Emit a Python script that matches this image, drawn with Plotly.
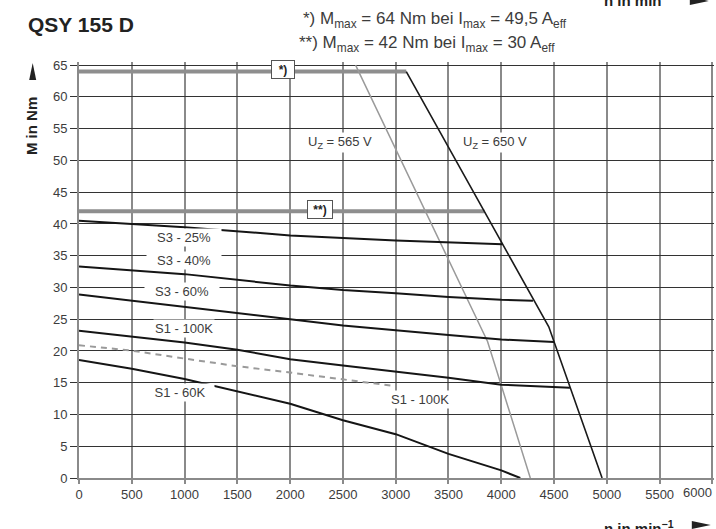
import plotly.graph_objects as go

# ---------------- data ----------------
x_ticks = [0, 500, 1000, 1500, 2000, 2500, 3000, 3500, 4000, 4500, 5000, 5500, 6000]
x_ticktext = ["0", "500", "1000", "1500", "2000", "2500", "3000", "3500", "4000", "4500",
              "5000", "5500", ""]
y_ticks = [0, 5, 10, 15, 20, 25, 30, 35, 40, 45, 50, 55, 60, 65]

mmax1_n = [0, 3100]
mmax1_m = [64, 64]
mmax2_n = [0, 3840]
mmax2_m = [42, 42]

uz650_n = [3100, 4450, 4955]
uz650_m = [64, 23.8, 0]
uz565_n = [2620, 3870, 4275]
uz565_m = [65, 21.5, 0]

s3_25_n = [0, 1000, 2000, 3000, 4010]
s3_25_m = [40.5, 39.5, 38.2, 37.4, 36.8]
s3_40_n = [0, 1000, 2000, 2500, 3000, 3500, 4000, 4300]
s3_40_m = [33.3, 32.1, 30.3, 29.6, 29.1, 28.5, 28.05, 27.9]
s3_60_n = [0, 1000, 2000, 2500, 3000, 3500, 4000, 4500]
s3_60_m = [28.9, 27.0, 25.0, 24.0, 23.2, 22.5, 21.8, 21.4]
s1_100_n = [0, 1000, 1500, 2000, 2500, 3000, 3500, 4000, 4650]
s1_100_m = [23.2, 21.35, 20.2, 18.7, 17.7, 16.8, 15.8, 14.7, 14.2]
s1_100d_n = [0, 500, 1000, 1500, 2000, 2500, 2980]
s1_100d_m = [20.9, 20.05, 18.8, 17.6, 16.6, 15.5, 14.5]
s1_60_n = [0, 500, 1000, 1500, 2000, 2500, 3000, 3500, 4000, 4180]
s1_60_m = [18.6, 17.2, 15.6, 13.7, 11.7, 9.1, 6.9, 3.8, 1.2, 0]

labels_text = ["S3 - 25%", "S3 - 40%", "S3 - 60%", "S1 - 100K", "S1 - 60K", "S1 - 100K",
               "U<sub>Z</sub> = 565 V", "U<sub>Z</sub> = 650 V"]
labels_n = [995, 990, 975, 990, 960, 3230, 2470, 3945]
labels_m = [37.9, 34.3, 29.4, 23.5, 13.4, 12.4, 52.8, 52.8]
labels_w = [72, 72, 72, 0, 66, 0, 0, 0]

TXT = "#3c3c3c"
FONT = "Liberation Sans"

# plot area in pixels (for placing paper-referenced items)
X_MAX = 6015
L, R, T, B = 79.3, 714.2, 62.0, 478.5
def px(x):
    return (x - L) / (R - L)
def py(y):
    return (B - y) / (B - T)

fig = go.Figure()

def line(n, m, color, width, dash="solid"):
    fig.add_trace(go.Scatter(x=n, y=m, mode="lines", hoverinfo="skip",
                             line=dict(color=color, width=width, dash=dash)))

line(mmax1_n, mmax1_m, "#8e8e8e", 4)
line(mmax2_n, mmax2_m, "#8e8e8e", 4)
line(uz565_n, uz565_m, "#9a9a9a", 1.5)
line(uz650_n, uz650_m, "#1a1a1a", 1.6)
line(s3_25_n, s3_25_m, "#151515", 2)
line(s3_40_n, s3_40_m, "#151515", 2)
line(s3_60_n, s3_60_m, "#151515", 2)
line(s1_100_n, s1_100_m, "#151515", 2)
line(s1_100d_n, s1_100d_m, "#9a9a9a", 2, dash="6px,5px")
line(s1_60_n, s1_60_m, "#151515", 2)

ann = []
for t, n, m, w in zip(labels_text, labels_n, labels_m, labels_w):
    a = dict(x=n, y=m, xref="x", yref="y", text=t, showarrow=False,
             font=dict(family=FONT, size=13, color=TXT), bgcolor="white",
             borderpad=1)
    if w:
        a["width"] = w
    ann.append(a)

# boxed markers
ann.append(dict(x=1930, y=64.3, xref="x", yref="y", text="<b>*)</b>", showarrow=False,
                font=dict(family=FONT, size=12, color="#222"), bgcolor="white",
                bordercolor="#555", borderwidth=1, borderpad=1, width=20, height=15))
ann.append(dict(x=2285, y=42.2, xref="x", yref="y", text="<b>**)</b>", showarrow=False,
                font=dict(family=FONT, size=12, color="#222"), bgcolor="white",
                bordercolor="#555", borderwidth=1, borderpad=1, width=22, height=15))

# last x tick label, shifted left as in the reference
ann.append(dict(x=px(698), y=py(493), xref="paper", yref="paper", xanchor="center", yanchor="middle",
                text="6000", showarrow=False, font=dict(family=FONT, size=13, color=TXT)))

# title and notes
ann.append(dict(x=px(26), y=py(24), xref="paper", yref="paper", xanchor="left", yanchor="middle",
                text="<b>QSY 155 D</b>", showarrow=False,
                font=dict(family=FONT, size=21, color="#222")))
ann.append(dict(x=px(301), y=py(20), xref="paper", yref="paper", xanchor="left", yanchor="middle",
                text="*) M<sub>max</sub> = 64 Nm bei I<sub>max</sub> = 49,5 A<sub>eff</sub>",
                showarrow=False, font=dict(family=FONT, size=17, color=TXT)))
ann.append(dict(x=px(297), y=py(44), xref="paper", yref="paper", xanchor="left", yanchor="middle",
                text="**) M<sub>max</sub> = 42 Nm bei I<sub>max</sub> = 30 A<sub>eff</sub>",
                showarrow=False, font=dict(family=FONT, size=17, color=TXT)))
# axis titles
ann.append(dict(x=px(32.5), y=py(126), xref="paper", yref="paper", xanchor="center", yanchor="middle",
                text="<b>M in Nm</b>", textangle=-90, showarrow=False,
                font=dict(family=FONT, size=15, color="#222")))
ann.append(dict(x=px(602), y=py(517), xref="paper", yref="paper", xanchor="left", yanchor="top",
                text="<b>n in min<sup>−1</sup></b>", showarrow=False,
                font=dict(family=FONT, size=15, color="#222")))
ann.append(dict(x=px(602), y=py(11), xref="paper", yref="paper", xanchor="left", yanchor="bottom",
                text="<b>n in min<sup>−1</sup></b>", showarrow=False,
                font=dict(family=FONT, size=15, color="#222")))

def tri(points):
    p = "M " + " L ".join(f"{px(a)},{py(b)}" for a, b in points) + " Z"
    return dict(type="path", xref="paper", yref="paper", path=p,
                fillcolor="#222", line=dict(width=0))

shapes = [
    tri([(29.5, 80), (33, 63), (36.5, 80)]),
    tri([(692, 521.5), (711, 525.5), (692, 529.5)]),
    tri([(690, -4), (709, 1), (690, 5)]),
]

fig.update_layout(
    width=716, height=529,
    margin=dict(l=L, r=716 - R, t=T, b=529 - B, pad=0),
    paper_bgcolor="white", plot_bgcolor="white",
    showlegend=False,
    annotations=ann, shapes=shapes,
    font=dict(family=FONT, color=TXT),
    xaxis=dict(range=[0, X_MAX], tickvals=x_ticks, ticktext=x_ticktext,
               showgrid=True, gridcolor="#8a8a8a", gridwidth=1.5,
               showline=True, linecolor="#8a8a8a", linewidth=1.5,
               ticks="outside", ticklen=4, tickcolor="#8a8a8a", tickwidth=1.5,
               zeroline=False, tickfont=dict(family=FONT, size=13, color=TXT)),
    yaxis=dict(range=[0, 65.5], tickvals=y_ticks, ticktext=[str(v) for v in y_ticks],
               showgrid=True, gridcolor="#333333", gridwidth=1,
               showline=True, linecolor="#8a8a8a", linewidth=2,
               ticks="outside", ticklen=7, tickcolor="#333333", tickwidth=1,
               zeroline=False, tickfont=dict(family=FONT, size=13, color=TXT)),
)

fig.write_html("out.html", config={"displayModeBar": False},
               post_script="document.body.style.margin='0';document.body.style.overflow='hidden';")
